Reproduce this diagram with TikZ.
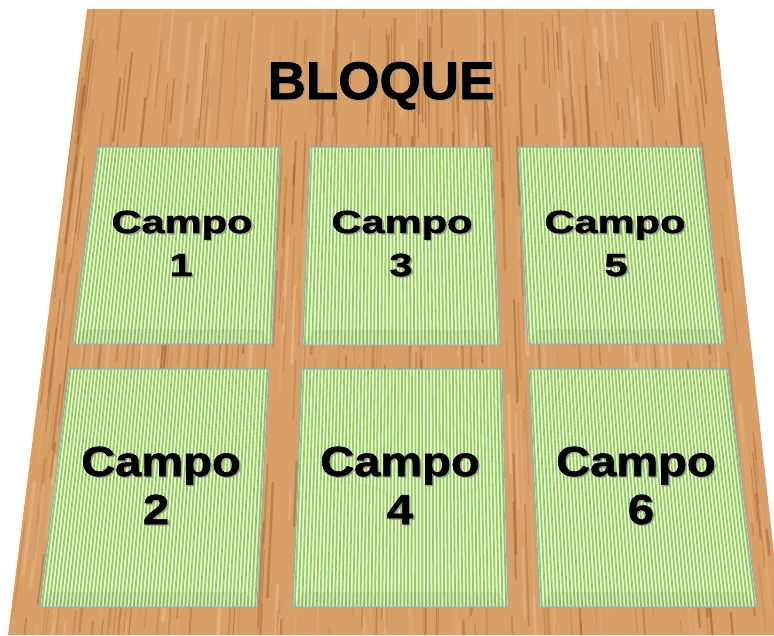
\documentclass[tikz,border=0pt]{standalone}
\usepackage{fontspec}
\setmainfont{Liberation Sans}[BoldFeatures={FakeBold=1.2}]
\definecolor{wood}{HTML}{D89F68}
\definecolor{woodd}{HTML}{9A5A2A}
\definecolor{woodl}{HTML}{EDBC8A}
\definecolor{pnl}{HTML}{EEFAD6}
\definecolor{pns}{HTML}{96CA64}
\definecolor{pnb}{HTML}{8AAFC8}
\newcommand\shd[1]{\leavevmode\rlap{\kern1.3pt\raisebox{-1.3pt}{\textcolor{black!40}{#1}}}#1}
\newcommand\mkpanel[6]{%
  \begin{scope}
    \fill[pnl] (#2,#1) -- (#3,#1) -- (#6,#4) -- (#5,#4) -- cycle;
    \clip (#2,#1) -- (#3,#1) -- (#6,#4) -- (#5,#4) -- cycle;
    \pgfmathtruncatemacro\nst{(#3-#2)/3.4}
    \foreach \s in {0,...,\nst}{
      \pgfmathsetmacro\uu{(\s+0.5)/(\nst+1)}
      \draw[pnstripe] ({#2+(#3-#2)*\uu},#1) -- ({#5+(#6-#5)*\uu},#4);
    }
    \fill[black, opacity=0.06] (#5,#4) -- (#6,#4) -- ({#6-10},{#4-15}) -- ({#5+10},{#4-15}) -- cycle;
    \fill[black, opacity=0.03] (#3,#1) -- (#6,#4) -- ({#6-6},{#4-15}) -- ({#3-6},{#1+6}) -- cycle;
  \end{scope}
  \draw[pnborder] (#2,#1) -- (#3,#1) -- (#6,#4) -- (#5,#4) -- cycle;
}
\tikzset{
  pnstripe/.style={draw=pns, line width=1.8pt},
  pnborder/.style={draw=pnb, line width=1pt, line join=miter},
  grain/.style={draw=woodd, line cap=round},
  grainl/.style={draw=woodl, line cap=round},
  topw/.style={font=\fontsize{32}{32}\selectfont\bfseries, inner sep=0pt, anchor=base},
  botw/.style={font=\fontsize{42}{42}\selectfont\bfseries, inner sep=0pt, anchor=base},
  ttl/.style={font=\fontsize{53}{53}\selectfont\bfseries, inner sep=0pt, anchor=base}
}
\begin{document}
\begin{tikzpicture}[x=1pt, y=-1pt]
\useasboundingbox (0,0) rectangle (774,635);
\clip (0,0) rectangle (774,635);
% board
\fill[wood] (87,9) -- (714,9) -- (783,635) -- (8,635) -- cycle;
\begin{scope}
  \clip (87,9) -- (714,9) -- (783,635) -- (8,635) -- cycle;
  \pgfmathsetseed{7}
  \foreach \k in {1,...,650}{
    \pgfmathsetmacro\t{rnd}
    \pgfmathsetmacro\ya{9+rnd*640-20}
    \pgfmathsetmacro\yb{\ya+15+rnd*110}
    \pgfmathsetmacro\fa{(\ya-9)/626}
    \pgfmathsetmacro\fb{(\yb-9)/626}
    \pgfmathsetmacro\xa{(87-79*\fa)*(1-\t)+(714+69*\fa)*\t}
    \pgfmathsetmacro\xb{(87-79*\fb)*(1-\t)+(714+69*\fb)*\t}
    \pgfmathsetmacro\w{0.6+2.2*rnd}
    \pgfmathsetmacro\o{0.12+0.36*rnd}
    \draw[grain, line width=\w pt, draw opacity=\o] (\xa,\ya) -- (\xb,\yb);
  }
  \foreach \k in {1,...,250}{
    \pgfmathsetmacro\t{rnd}
    \pgfmathsetmacro\ya{9+rnd*640-20}
    \pgfmathsetmacro\yb{\ya+20+rnd*120}
    \pgfmathsetmacro\fa{(\ya-9)/626}
    \pgfmathsetmacro\fb{(\yb-9)/626}
    \pgfmathsetmacro\xa{(87-79*\fa)*(1-\t)+(714+69*\fa)*\t}
    \pgfmathsetmacro\xb{(87-79*\fb)*(1-\t)+(714+69*\fb)*\t}
    \pgfmathsetmacro\w{1+3*rnd}
    \pgfmathsetmacro\o{0.2+0.4*rnd}
    \draw[grainl, line width=\w pt, draw opacity=\o] (\xa,\ya) -- (\xb,\yb);
  }
\end{scope}
\draw[draw=woodd!60, line width=0.8pt, opacity=0.5] (87,9) -- (714,9);
% panels
\mkpanel{147}{98}{280}{344}{73}{272}
\mkpanel{147}{310}{492}{345}{303}{500}
\mkpanel{147}{518}{701}{344}{528}{724}
\mkpanel{369}{69}{269}{607}{40}{257}
\mkpanel{369}{302}{502}{607}{293}{508}
\mkpanel{369}{529}{728}{607}{540}{757}
% texts
\node[ttl] (title) at (381,99) {\shd{BLOQUE}};
\node[topw] (w1) at (182,233) {\scalebox{1.3}[1]{\shd{Campo}}};
\node[topw] (n1) at (181,276) {\scalebox{1.3}[1]{\shd{1}}};
\node[topw] (w3) at (402,233) {\scalebox{1.3}[1]{\shd{Campo}}};
\node[topw] (n3) at (401,276) {\scalebox{1.3}[1]{\shd{3}}};
\node[topw] (w5) at (615,233) {\scalebox{1.3}[1]{\shd{Campo}}};
\node[topw] (n5) at (616,276) {\scalebox{1.3}[1]{\shd{5}}};
\node[botw] (w2) at (161,476) {\scalebox{1.12}[1]{\shd{Campo}}};
\node[botw] (n2) at (156,524) {\scalebox{1.12}[1]{\shd{2}}};
\node[botw] (w4) at (400,476) {\scalebox{1.12}[1]{\shd{Campo}}};
\node[botw] (n4) at (400,524) {\scalebox{1.12}[1]{\shd{4}}};
\node[botw] (w6) at (636,476) {\scalebox{1.12}[1]{\shd{Campo}}};
\node[botw] (n6) at (641,524) {\scalebox{1.12}[1]{\shd{6}}};
\end{tikzpicture}
\end{document}
